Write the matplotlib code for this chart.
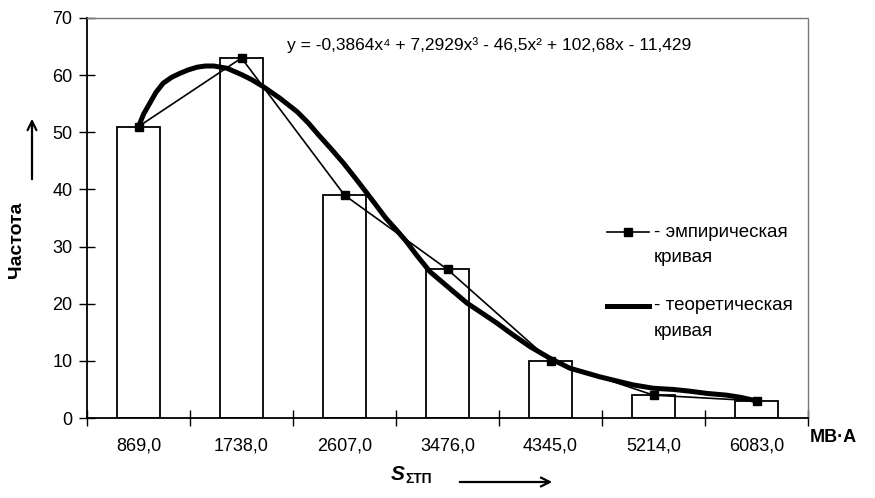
import matplotlib
matplotlib.use("Agg")
import matplotlib.pyplot as plt
from matplotlib.lines import Line2D

plt.rcParams['font.family'] = ['Liberation Sans', 'DejaVu Sans']

# --- data ---
categories = ["869,0", "1738,0", "2607,0", "3476,0", "4345,0", "5214,0", "6083,0"]
frequencies = [51, 63, 39, 26, 10, 4, 3]

# theoretical curve (thick line), read at positions along the category axis (1 = 869,0)
theor_x = [1.0, 1.05, 1.11, 1.17, 1.24, 1.32, 1.40, 1.48, 1.57, 1.65, 1.73, 1.86, 2.0,
           2.1, 2.21, 2.37, 2.54, 2.65, 2.75, 2.87, 2.99, 3.1, 3.22, 3.3, 3.40, 3.5,
           3.60, 3.7, 3.83, 4.0, 4.19, 4.34, 4.48, 4.64, 4.80, 5.0, 5.19, 5.48, 5.80,
           6.0, 6.19, 6.35, 6.52, 6.71, 6.85, 7.0]
theor_y = [51.0, 53.2, 55.1, 57.0, 58.6, 59.6, 60.3, 60.9, 61.4, 61.6, 61.6, 61.2, 60.1,
           59.2, 58.0, 56.0, 53.6, 51.6, 49.5, 47.1, 44.6, 42.1, 39.3, 37.4, 35.0, 33.0,
           30.9, 28.5, 25.6, 23.0, 20.1, 18.3, 16.6, 14.5, 12.5, 10.4, 8.7, 7.2, 5.8,
           5.2, 5.0, 4.7, 4.3, 4.0, 3.6, 3.0]

yticks = [0, 10, 20, 30, 40, 50, 60, 70]
equation = "y = -0,3864x⁴ + 7,2929x³ - 46,5x² + 102,68x - 11,429"

W, H = 875, 498
fig = plt.figure(figsize=(W / 100, H / 100), dpi=100)
ax = fig.add_axes([87 / W, 1 - 418 / H, (808 - 87) / W, 400 / H])

pos = list(range(1, len(categories) + 1))

# bars
ax.bar(pos, frequencies, width=0.41, color="white", edgecolor="black", linewidth=1.3, zorder=2)

# empirical curve
ax.plot(pos, frequencies, color="black", lw=1.2, marker="s", markersize=6, zorder=4)

# theoretical curve
ax.plot(theor_x, theor_y, color="black", lw=3.6, solid_capstyle="round",
        solid_joinstyle="round", zorder=3)

ax.set_xlim(0.5, len(categories) + 0.5)
ax.set_ylim(0, 70)

# x: ticks on category boundaries, labels at centres
ax.set_xticks([p - 0.5 for p in pos] + [len(pos) + 0.5])
ax.set_xticklabels([])
ax.set_xticks(pos, minor=True)
ax.set_xticklabels(categories, minor=True, fontsize=13)
ax.tick_params(axis="x", which="major", direction="inout", length=11, width=1)
ax.tick_params(axis="x", which="minor", length=0, pad=14)

ax.set_yticks(yticks)
ax.set_yticklabels([str(v) for v in yticks], fontsize=13)
ax.tick_params(axis="y", direction="inout", length=11, width=1, pad=5)

for side in ["top", "right"]:
    ax.spines[side].set_linestyle((0, (1, 1)))
    ax.spines[side].set_color("#777777")
    ax.spines[side].set_linewidth(1)
for side in ["left", "bottom"]:
    ax.spines[side].set_color("black")
    ax.spines[side].set_linewidth(1.3)


def fx(px):
    return px / W


def fy(py):
    return 1 - py / H


# equation of the trend line
fig.text(fx(287), fy(45), equation, fontsize=12.5, ha="left", va="center")

# legend drawn by hand
fig.add_artist(Line2D([fx(607), fx(649)], [fy(232), fy(232)], color="black", lw=1.2,
                      transform=fig.transFigure))
fig.add_artist(Line2D([fx(628)], [fy(232)], color="black", marker="s", markersize=6,
                      transform=fig.transFigure))
fig.text(fx(654), fy(232), "- эмпирическая", fontsize=13.5, ha="left", va="center")
fig.text(fx(654), fy(257), "кривая", fontsize=13.5, ha="left", va="center")

fig.add_artist(Line2D([fx(607), fx(649)], [fy(306), fy(306)], color="black", lw=3.6,
                      transform=fig.transFigure))
fig.text(fx(654), fy(306), "- теоретическая", fontsize=13.5, ha="left", va="center")
fig.text(fx(654), fy(332), "кривая", fontsize=13.5, ha="left", va="center")

# axis titles
fig.text(fx(16), fy(240), "Частота", fontsize=14, fontweight="bold", rotation=90,
         ha="center", va="center")
ax.annotate("", xy=(fx(32), fy(116)), xytext=(fx(32), fy(182)), xycoords="figure fraction",
            textcoords="figure fraction",
            arrowprops=dict(arrowstyle="->", lw=1.6, color="black", mutation_scale=16))

fig.text(fx(810), fy(437), "МВ·А", fontsize=13, fontweight="bold", ha="left", va="center")

fig.text(fx(391), fy(474), "S", fontsize=15, fontweight="bold", style="italic",
         ha="left", va="center")
fig.text(fx(405), fy(479), "ΣТП", fontsize=10, fontweight="bold", ha="left", va="center")
ax.annotate("", xy=(fx(555), fy(482)), xytext=(fx(457), fy(482)), xycoords="figure fraction",
            textcoords="figure fraction",
            arrowprops=dict(arrowstyle="->", lw=1.6, color="black", mutation_scale=16))

fig.savefig("out.png", dpi=100)
